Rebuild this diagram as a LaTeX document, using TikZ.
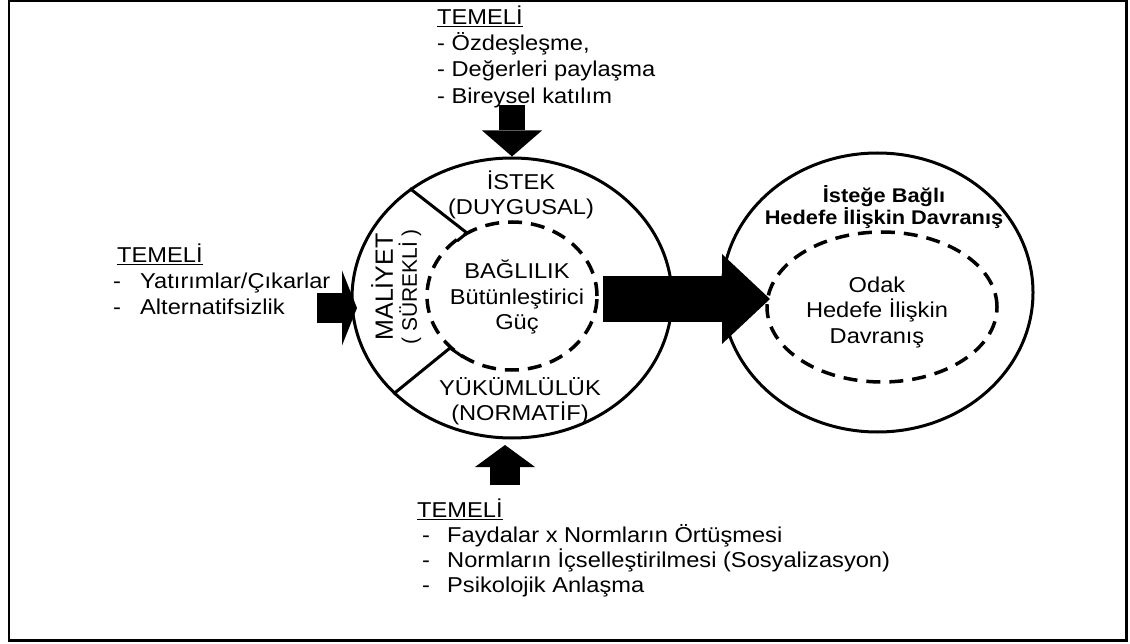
\documentclass[tikz,border=0pt]{standalone}
\usepackage{fontspec}
\setmainfont{Liberation Sans}[FakeStretch=1.1]
\newfontfamily\rotf{Liberation Sans}
\usetikzlibrary{shapes.geometric,arrows.meta}
\begin{document}
\begin{tikzpicture}[x=1pt,y=-1pt,
  txt/.style={inner sep=0pt, font=\fontsize{21.5}{25.5}\selectfont, align=center},
  blk/.style={inner sep=0pt, font=\fontsize{21.5}{26.3}\selectfont, align=left, anchor=north west},
  outerell/.style={draw, ellipse, line width=3pt, inner sep=0pt},
  innerell/.style={draw, ellipse, line width=3.5pt, dash pattern=on 14pt off 9pt, inner sep=0pt},
  divider/.style={line width=3pt, line join=miter},
  fat/.style={line width=#1, line cap=butt}
]
\useasboundingbox (0,0) rectangle (1130,644);
\draw[line width=2.5pt] (9,1.2) rectangle (1126.5,640.5);

% ellipses
\node[outerell, minimum width=320pt, minimum height=280pt] (commit) at (512,298) {};
\node[innerell, minimum width=170pt, minimum height=148pt] (core) at (512,296) {};
\node[outerell, minimum width=311pt, minimum height=279pt] (behav) at (877.5,292.5) {};
\node[innerell, minimum width=230pt, minimum height=150pt] (focal) at (882,307) {};

% dividers
\coordinate (u1) at (467,233);
\coordinate (u2) at (457,241);
\coordinate (l1) at (450,348);
\coordinate (l2) at (463,357);
\draw[divider] (commit.133) -- (u1) -- (u2);
\draw[divider] (commit.219) -- (l1) -- (l2);

% arrows
\coordinate (tsrc) at (512,105);
\coordinate (bsrc) at (505,485);
\coordinate (btip) at (505,445);
\coordinate (lsrc) at (317,308);
\coordinate (ltip) at (357,308);
\coordinate (msrc) at (603,299);
\coordinate (mtip) at (770,299);
\draw[fat=26pt, -{Triangle[length=26pt,width=60pt,line width=0pt]}] (tsrc) -- (commit.north);
\draw[fat=30pt, -{Triangle[length=22pt,width=60pt,line width=0pt]}] (bsrc) -- (btip);
\draw[fat=30pt, -{Triangle[length=15pt,width=75pt,line width=0pt]}] (lsrc) -- (ltip);
\draw[fat=46pt, -{Triangle[length=48pt,width=90pt,line width=0pt]}] (msrc) -- (mtip);

% texts in left circle
\node[txt] (istek) at (521,195) {İSTEK\\(DUYGUSAL)};
\node[txt] (bag) at (517,297) {BAĞLILIK\\Bütünleştirici\\Güç};
\node[txt] (yuk) at (520,401) {YÜKÜMLÜLÜK\\(NORMATİF)};
\node[inner sep=0pt, rotate=90, font=\rotf\fontsize{25}{25}\selectfont] (maliyet) at (382,287) {MALİYET};
\node[inner sep=0pt, rotate=90, font=\rotf\fontsize{21}{21}\selectfont] (surekli) at (410,287) {( SÜREKLİ )};

% texts in right ellipse
\node[inner sep=0pt, align=center, font=\bfseries\fontsize{19.8}{21.5}\selectfont] (iste) at (884,207) {İsteğe Bağlı\\Hedefe İlişkin Davranış};
\node[txt] (odak) at (877,312) {Odak\\Hedefe İlişkin\\Davranış};

% basis blocks
\node[blk] (topb) at (437,5.5) {\underline{TEMELİ}\\- Özdeşleşme,\\- Değerleri paylaşma\\- Bireysel katılım};
\node[blk] (leftb) at (113,243.5) {\hspace*{4pt}\underline{TEMELİ}\\\makebox[27pt][l]{-}Yatırımlar/Çıkarlar\\\makebox[27pt][l]{-}Alternatifsizlik};
\node[blk, font=\fontsize{21.5}{25}\selectfont] (botb) at (417,499) {\underline{TEMELİ}\\\hspace*{5pt}\makebox[25pt][l]{-}Faydalar x Normların Örtüşmesi\\\hspace*{5pt}\makebox[25pt][l]{-}Normların İçselleştirilmesi (Sosyalizasyon)\\\hspace*{5pt}\makebox[25pt][l]{-}Psikolojik Anlaşma};
\end{tikzpicture}
\end{document}
